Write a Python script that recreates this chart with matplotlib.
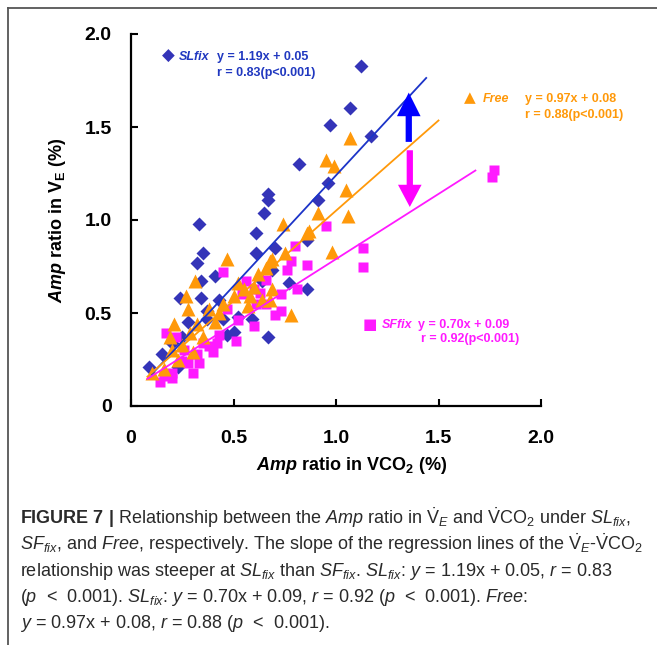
import numpy as np
import matplotlib
matplotlib.use('Agg')
import matplotlib.pyplot as plt
from matplotlib.lines import Line2D

plt.rcParams['font.family'] = ['Liberation Sans', 'DejaVu Sans']
plt.rcParams['mathtext.fontset'] = 'custom'
plt.rcParams['mathtext.rm'] = 'Liberation Sans'
plt.rcParams['mathtext.it'] = 'Liberation Sans:italic'
plt.rcParams['mathtext.bf'] = 'Liberation Sans:bold'
plt.rcParams['mathtext.bfit'] = 'Liberation Sans:italic:bold'

# ---------------- data ----------------
sl_x = [1.12, 1.07, 0.97, 1.17, 0.82, 0.96, 0.91, 0.86, 0.70, 0.67, 0.67, 0.65, 0.33, 0.61,
        0.35, 0.32, 0.61, 0.41, 0.34, 0.69, 0.64, 0.77, 0.86, 0.24, 0.34, 0.43, 0.37, 0.37,
        0.45, 0.52, 0.59, 0.50, 0.47, 0.67, 0.25, 0.20, 0.23, 0.09, 0.28, 0.15]
sl_y = [1.83, 1.60, 1.51, 1.45, 1.30, 1.20, 1.11, 0.89, 0.85, 1.14, 1.11, 1.04, 0.98, 0.93,
        0.82, 0.77, 0.82, 0.70, 0.67, 0.73, 0.67, 0.66, 0.63, 0.58, 0.58, 0.57, 0.51, 0.47,
        0.47, 0.48, 0.47, 0.40, 0.38, 0.37, 0.37, 0.34, 0.21, 0.21, 0.45, 0.28]

fr_x = [1.07, 0.95, 0.99, 1.05, 0.91, 1.06, 0.74, 0.87, 0.86, 0.98, 0.75, 0.69, 0.69, 0.78,
        0.47, 0.68, 0.66, 0.31, 0.52, 0.60, 0.27, 0.28, 0.45, 0.50, 0.58, 0.64, 0.68, 0.57,
        0.41, 0.21, 0.32, 0.19, 0.29, 0.35, 0.30, 0.23, 0.16, 0.10, 0.25, 0.20, 0.38, 0.43,
        0.55, 0.62]
fr_y = [1.44, 1.32, 1.29, 1.16, 1.04, 1.02, 0.98, 0.94, 0.93, 0.83, 0.82, 0.79, 0.63, 0.49,
        0.79, 0.78, 0.74, 0.67, 0.66, 0.64, 0.59, 0.52, 0.55, 0.59, 0.59, 0.57, 0.57, 0.54,
        0.45, 0.44, 0.44, 0.37, 0.39, 0.37, 0.29, 0.25, 0.20, 0.18, 0.33, 0.30, 0.52, 0.50,
        0.63, 0.71]

sf_x = [1.77, 1.76, 1.13, 1.13, 0.95, 0.80, 0.86, 0.78, 0.76, 0.81, 0.45, 0.56, 0.54, 0.60,
        0.73, 0.63, 0.66, 0.61, 0.73, 0.70, 0.47, 0.60, 0.43, 0.42, 0.51, 0.40, 0.17, 0.22,
        0.35, 0.32, 0.33, 0.28, 0.30, 0.20, 0.16, 0.14, 0.20, 0.25, 0.26, 0.66, 0.52, 0.38]
sf_y = [1.27, 1.23, 0.85, 0.75, 0.97, 0.86, 0.76, 0.78, 0.73, 0.63, 0.72, 0.67, 0.60, 0.63,
        0.60, 0.61, 0.68, 0.55, 0.51, 0.49, 0.52, 0.43, 0.38, 0.34, 0.35, 0.29, 0.39, 0.37,
        0.34, 0.28, 0.23, 0.23, 0.18, 0.18, 0.16, 0.13, 0.15, 0.24, 0.30, 0.55, 0.46, 0.32]

fit_names = ['SLfix', 'Free', 'SFfix']
fit_slope = [1.19, 0.97, 0.70]
fit_icpt = [0.05, 0.08, 0.09]
fit_xmin = [0.10, 0.08, 0.08]
fit_xmax = [1.44, 1.50, 1.68]

x_ticks = [0, 0.5, 1.0, 1.5, 2.0]
x_tick_labels = ['0', '0.5', '1.0', '1.5', '2.0']
y_ticks = [0, 0.5, 1.0, 1.5, 2.0]
y_tick_labels = ['0', '0.5', '1.0', '1.5', '2.0']

# ---------------- style ----------------
C_SL = '#3434b8'
C_SL_LINE = '#1c34c8'
C_SL_TXT = '#2038c0'
C_FR = '#ff990a'
C_SF = '#ff1aff'
line_colors = [C_SL_LINE, C_FR, C_SF]

W, H = 657, 645
fig = plt.figure(figsize=(W / 100, H / 100), dpi=100)


def fx(px):
    return px / W


def fy(py):
    return 1 - py / H


ax = fig.add_axes([fx(131), fy(406), (541 - 131) / W, (406 - 34) / H])
ax.set_xlim(0, 2)
ax.set_ylim(0, 2)

ax.plot(sl_x, sl_y, 'D', color=C_SL, ms=7.5, mec='none', clip_on=False, zorder=3)
ax.plot(sf_x, sf_y, 's', color=C_SF, ms=7.5, mec='none', clip_on=False, zorder=4)
ax.plot(fr_x, fr_y, '^', color=C_FR, ms=9.5, mec='none', clip_on=False, zorder=5)

for s, b, x0, x1, c in zip(fit_slope, fit_icpt, fit_xmin, fit_xmax, line_colors):
    xs = np.array([x0, x1])
    ax.plot(xs, s * xs + b, color=c, lw=1.3, zorder=6)

# arrows
ax.annotate('', xy=(1.355, 1.685), xytext=(1.355, 1.42),
            arrowprops=dict(width=4.5, headwidth=17, headlength=17, shrink=0,
                            color='#0000ff', lw=0), zorder=7)
ax.annotate('', xy=(1.36, 1.07), xytext=(1.36, 1.375),
            arrowprops=dict(width=4.5, headwidth=17, headlength=16, shrink=0,
                            color='#ff00ff', lw=0), zorder=7)

for side in ['top', 'right']:
    ax.spines[side].set_visible(False)
for side in ['left', 'bottom']:
    ax.spines[side].set_linewidth(1.6)
ax.set_xticks(x_ticks)
ax.set_xticklabels(x_tick_labels, fontweight='bold')
ax.set_yticks(y_ticks)
ax.set_yticklabels(y_tick_labels, fontweight='bold')
ax.tick_params(direction='in', length=5, width=1.5, labelsize=14)
ax.tick_params(axis='x', pad=17)
ax.tick_params(axis='y', pad=14)

ax.set_xlabel(r"$\mathbfit{Amp}$ ratio in VCO$_{\mathbf{2}}$ (%)", fontsize=13, fontweight='bold')
ax.xaxis.set_label_coords((352 - 131) / 410, (406 - 455) / 372)
ax.set_ylabel(r"$\mathbfit{Amp}$ ratio in V$_{\mathbf{E}}$ (%)", fontsize=13, fontweight='bold')
ax.yaxis.set_label_coords((68 - 131) / 410, 0.5)

# outer frame
fig.add_artist(Line2D([fx(8), 1], [fy(8), fy(8)], color='#555555', lw=1.3))
fig.add_artist(Line2D([fx(8), fx(8)], [fy(8), 0], color='#555555', lw=1.3))

# in-plot annotations
AN = 9
fig.text(fx(168), fy(56), '\u25c6', color=C_SL, fontsize=12, family='DejaVu Sans', ha='center', va='center')
fig.text(fx(179), fy(57), 'SLfix', color=C_SL_TXT, fontsize=AN, style='italic', weight='bold', va='center')
fig.text(fx(217), fy(57), 'y = 1.19x + 0.05', color=C_SL_TXT, fontsize=AN, weight='bold', va='center')
fig.text(fx(217), fy(73), 'r = 0.83(p<0.001)', color=C_SL_TXT, fontsize=AN, weight='bold', va='center')

fig.text(fx(470), fy(98), '\u25b2', color=C_FR, fontsize=11, family='DejaVu Sans', ha='center', va='center')
fig.text(fx(483), fy(99), 'Free', color=C_FR, fontsize=AN, style='italic', weight='bold', va='center')
fig.text(fx(525), fy(99), 'y = 0.97x + 0.08', color=C_FR, fontsize=AN, weight='bold', va='center')
fig.text(fx(525), fy(115), 'r = 0.88(p<0.001)', color=C_FR, fontsize=AN, weight='bold', va='center')

fig.text(fx(370), fy(324), '\u25a0', color=C_SF, fontsize=11, family='DejaVu Sans', ha='center', va='center')
fig.text(fx(382), fy(325), 'SFfix', color=C_SF, fontsize=AN, style='italic', weight='bold', va='center')
fig.text(fx(418), fy(325), 'y = 0.70x + 0.09', color=C_SF, fontsize=AN, weight='bold', va='center')
fig.text(fx(421), fy(339), 'r = 0.92(p<0.001)', color=C_SF, fontsize=AN, weight='bold', va='center')

# caption
VE = r"$\dot{\mathrm{V}}_{\mathit{E}}$"
VCO2 = r"$\dot{\mathrm{V}}\mathrm{CO}_{2}$"
SL = r"$\mathit{SL}_{\mathit{fix}}$"
SF = r"$\mathit{SF}_{\mathit{fix}}$"
caption_lines = [
    r"$\mathbf{FIGURE\ 7\ |}$ Relationship between the $\mathit{Amp}$ ratio in " + VE + " and " + VCO2 + " under " + SL + ",",
    SF + r", and $\mathit{Free}$, respectively. The slope of the regression lines of the " + VE + "-" + VCO2,
    "relationship was steeper at " + SL + " than " + SF + ". " + SL + r": $\mathit{y}$ = 1.19x + 0.05, $\mathit{r}$ = 0.83",
    r"($\mathit{p}$  <  0.001). " + SL + r": $\mathit{y}$ = 0.70x + 0.09, $\mathit{r}$ = 0.92 ($\mathit{p}$  <  0.001). $\mathit{Free}$:",
    r"$\mathit{y}$ = 0.97x + 0.08, $\mathit{r}$ = 0.88 ($\mathit{p}$  <  0.001).",
]
cap_y = [524, 550, 576, 602, 628]
for txt, py in zip(caption_lines, cap_y):
    fig.text(fx(20), fy(py), txt, fontsize=13, color='#2a2a2a', ha='left', va='baseline')

fig.savefig('out.png', dpi=100)
